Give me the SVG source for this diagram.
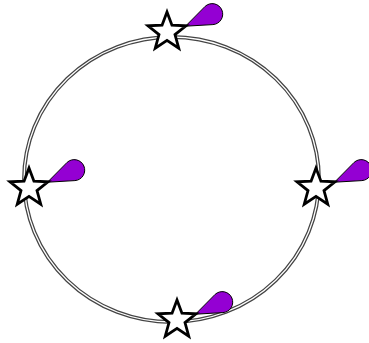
<svg xmlns="http://www.w3.org/2000/svg" xmlns:xlink="http://www.w3.org/1999/xlink" width="369" height="343" viewBox="0 0 369 343">
<defs>
<style>
.ring-outer{fill:none;stroke:#444;stroke-width:3.8}
.ring-inner{fill:none;stroke:#fff;stroke-width:1.3}
.star{fill:#fff;stroke:#000;stroke-width:2.8;stroke-linejoin:miter}
.drop{fill:#9400d3;stroke:#000;stroke-width:1}
</style>
<polygon id="starShape" class="star" points="0,-20 4.94,-6.80 19.02,-6.18 8.00,2.60 11.76,16.18 0,8.4 -11.76,16.18 -8.00,2.60 -19.02,-6.18 -4.94,-6.80"/>
<path id="dropShape" class="drop" d="M18.5,-5.8 l27.4,-1.6 a10.5,10.5 0 1 0 -7.8,-18.2 Z"/>
</defs>
<g id="connectors">
<ellipse class="ring-outer" cx="171.5" cy="179.5" rx="147.5" ry="142.5"/>
<ellipse class="ring-inner" cx="171.5" cy="179.5" rx="147.5" ry="142.5"/>
</g>
<g id="node-top" transform="translate(167,32)"><use xlink:href="#dropShape"/><use xlink:href="#starShape"/></g>
<g id="node-left" transform="translate(29,188)"><use xlink:href="#dropShape"/><use xlink:href="#starShape"/></g>
<g id="node-right" transform="translate(316,188)"><use xlink:href="#dropShape"/><use xlink:href="#starShape"/></g>
<g id="node-bottom" transform="translate(177,320)"><use xlink:href="#dropShape"/><use xlink:href="#starShape"/></g>
</svg>
